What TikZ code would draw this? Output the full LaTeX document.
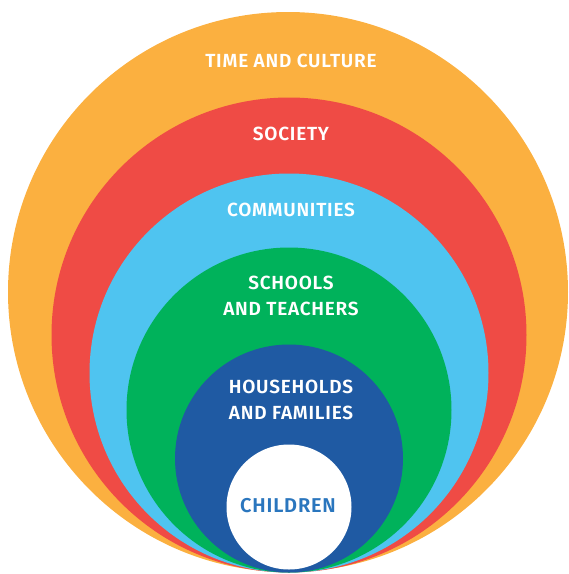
\documentclass[tikz,border=0pt]{standalone}
\usepackage{fontspec}
\setmainfont{Fira Sans}[BoldFont={Fira Sans SemiBold}, BoldFeatures={LetterSpace=4}]
\definecolor{corange}{HTML}{FBB040}
\definecolor{cred}{HTML}{EF4B45}
\definecolor{clblue}{HTML}{4FC4F0}
\definecolor{cgreen}{HTML}{00B25B}
\definecolor{cblue}{HTML}{1F5AA3}
\definecolor{ctext}{HTML}{2A76BE}
\tikzset{
  lbl/.style={text=white, font=\fontsize{19}{26}\selectfont\bfseries, align=center, inner sep=0pt},
}
\begin{document}
\begin{tikzpicture}[x=1pt,y=-1pt]
\useasboundingbox (0,0) rectangle (569,574);
\fill[corange] (288,292) circle (280);
\fill[cred] (289,335) circle (237.5);
\fill[clblue] (289,373) circle (199.5);
\fill[cgreen] (289,410) circle (162.5);
\fill[cblue] (289,458.5) circle (114);
\fill[white] (289,507) circle (62.5);
\node[lbl] (time) at (291,61.3) {TIME AND CULTURE};
\node[lbl] (soc) at (291,133.5) {SOCIETY};
\node[lbl] (com) at (291,209.5) {COMMUNITIES};
\node[lbl] (sch) at (291,295.5) {SCHOOLS\\AND TEACHERS};
\node[lbl] (hh) at (291,399.5) {HOUSEHOLDS\\AND FAMILIES};
\node[lbl, text=ctext, font=\fontsize{20}{24}\selectfont\bfseries] (ch) at (288,505.5) {CHILDREN};
\end{tikzpicture}
\end{document}
